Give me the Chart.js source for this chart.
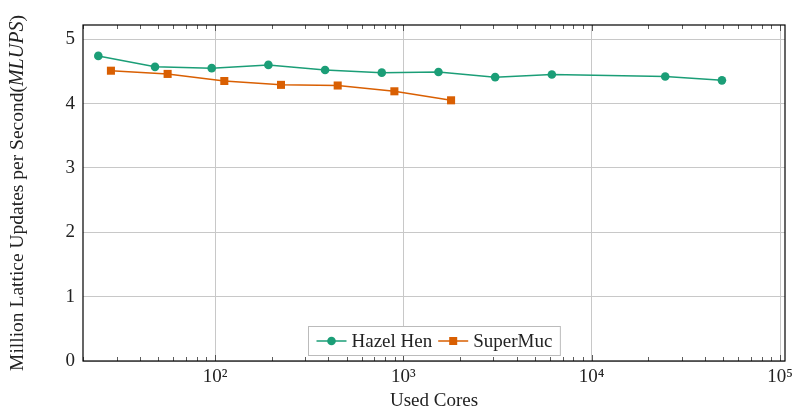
<!DOCTYPE html>
<html>
<head>
<meta charset="utf-8">
<script src="https://cdn.jsdelivr.net/npm/chart.js@4"></script>
<style>
    html, body { margin: 0; padding: 0; background: #fff; }
    #wrap { width: 793px; height: 409px; }
</style>
</head>
<body>
<div id="wrap"><canvas id="c" width="793" height="409"></canvas></div>
<script>
// values
const hazelCores = [24, 48, 96, 192, 384, 768, 1536, 3072, 6144, 24576, 49152];
const hazelMlups = [4.74, 4.57, 4.55, 4.60, 4.52, 4.48, 4.49, 4.41, 4.45, 4.42, 4.36];
const mucCores = [28, 56, 112, 224, 448, 896, 1792];
const mucMlups = [4.51, 4.46, 4.35, 4.29, 4.28, 4.19, 4.05];
const xMajorTicks = [1e2, 1e3, 1e4, 1e5];
const xTickLabels = ['10²', '10³', '10⁴', '10⁵'];
const yTicks = [0, 1, 2, 3, 4, 5];

const FONT = '"Liberation Serif", "DejaVu Serif", serif';
const GREEN = '#1b9e77';
const ORANGE = '#d95f02';
const TEXT = '#222';

function toPoints(xs, ys) {
    return xs.map((x, i) => ({ x, y: ys[i] }));
}

// frame, minor log ticks, axis titles (italic part), legend box inside the plot
const decorations = {
    id: 'decorations',
    afterDraw(chart) {
        const { ctx, chartArea: a, scales } = chart;
        const xs = scales.x;
        ctx.save();

        // minor ticks (inside, top and bottom)
        ctx.strokeStyle = '#333';
        ctx.lineWidth = 0.8;
        for (let e = 1; e <= 5; e++) {
            for (let m = 1; m <= 9; m++) {
                const v = m * Math.pow(10, e);
                if (v < xs.min || v > xs.max) continue;
                const px = Math.round(xs.getPixelForValue(v)) + 0.5;
                const len = m === 1 ? 6 : 4;
                ctx.beginPath();
                ctx.moveTo(px, a.bottom); ctx.lineTo(px, a.bottom - len);
                ctx.moveTo(px, a.top); ctx.lineTo(px, a.top + len);
                ctx.stroke();
            }
        }

        // frame
        ctx.strokeStyle = '#000';
        ctx.lineWidth = 1.2;
        ctx.strokeRect(a.left, a.top, a.right - a.left, a.bottom - a.top);

        // x axis title
        ctx.fillStyle = TEXT;
        ctx.font = '19px ' + FONT;
        ctx.textAlign = 'center';
        ctx.textBaseline = 'middle';
        ctx.fillText('Used Cores', (a.left + a.right) / 2, 401);
        ctx.textAlign = 'left';

        // y axis title
        const parts = [
            { t: 'Million Lattice Updates per Second(', f: '19.5px ' + FONT },
            { t: 'MLUPS', f: 'italic 20px ' + FONT },
            { t: ')', f: '19.5px ' + FONT }
        ];
        let total = 0;
        parts.forEach(p => { ctx.font = p.f; p.w = ctx.measureText(p.t).width; total += p.w; });
        ctx.translate(18, (a.top + a.bottom) / 2);
        ctx.rotate(-Math.PI / 2);
        let cx = -total / 2;
        parts.forEach(p => { ctx.font = p.f; ctx.fillText(p.t, cx, 0); cx += p.w; });
        ctx.setTransform(1, 0, 0, 1, 0, 0);

        // legend
        const items = chart.data.datasets;
        ctx.font = '19px ' + FONT;
        const sample = 30, gap = 5, pad = 8, between = 6;
        let w = pad;
        items.forEach((d, i) => { w += sample + gap + ctx.measureText(d.label).width + (i < items.length - 1 ? between : pad); });
        const h = 29;
        const lx = Math.round((a.left + a.right) / 2 - w / 2) + 0.5;
        const ly = a.bottom - 34.5;
        ctx.fillStyle = '#fff';
        ctx.fillRect(lx, ly, w, h);
        ctx.strokeStyle = '#bbb';
        ctx.lineWidth = 1;
        ctx.strokeRect(lx, ly, w, h);
        let x = lx + pad;
        const my = ly + h / 2;
        items.forEach(d => {
            ctx.strokeStyle = d.borderColor;
            ctx.lineWidth = 1.5;
            ctx.beginPath(); ctx.moveTo(x, my); ctx.lineTo(x + sample, my); ctx.stroke();
            ctx.fillStyle = d.borderColor;
            if (d.pointStyle === 'rect') {
                ctx.fillRect(x + sample / 2 - 4, my - 4, 8, 8);
            } else {
                ctx.beginPath(); ctx.arc(x + sample / 2, my, 4.3, 0, Math.PI * 2); ctx.fill();
            }
            x += sample + gap;
            ctx.fillStyle = TEXT;
            ctx.textBaseline = 'middle';
            ctx.fillText(d.label, x, my + 1);
            x += ctx.measureText(d.label).width + between;
        });
        ctx.restore();
    }
};

new Chart(document.getElementById('c').getContext('2d'), {
    type: 'line',
    data: {
        datasets: [
            {
                label: 'Hazel Hen',
                data: toPoints(hazelCores, hazelMlups),
                borderColor: GREEN,
                backgroundColor: GREEN,
                borderWidth: 1.5,
                pointStyle: 'circle',
                pointRadius: 4.3,
                pointBorderWidth: 0,
                tension: 0
            },
            {
                label: 'SuperMuc',
                data: toPoints(mucCores, mucMlups),
                borderColor: ORANGE,
                backgroundColor: ORANGE,
                borderWidth: 1.5,
                pointStyle: 'rect',
                pointRadius: 5.7,
                pointBorderWidth: 0,
                tension: 0
            }
        ]
    },
    options: {
        responsive: false,
        animation: false,
        layout: { padding: { top: 25, right: 8, left: 0, bottom: 0 } },
        plugins: { legend: { display: false }, tooltip: { enabled: false } },
        scales: {
            x: {
                type: 'logarithmic',
                min: 19.9,
                max: 106300,
                afterBuildTicks: s => { s.ticks = xMajorTicks.map(v => ({ value: v })); },
                afterFit: s => { s.height = 48; s.paddingLeft = 0; s.paddingRight = 0; },
                ticks: {
                    autoSkip: false,
                    maxRotation: 0,
                    padding: 5,
                    color: TEXT,
                    font: { family: FONT, size: 19 },
                    callback: v => xTickLabels[xMajorTicks.indexOf(v)] || ''
                },
                grid: { color: '#c8c8c8', drawTicks: false },
                border: { display: false }
            },
            y: {
                min: 0,
                max: 5.22,
                afterBuildTicks: s => { s.ticks = yTicks.map(v => ({ value: v })); },
                afterFit: s => { s.width = 83; s.paddingTop = 0; s.paddingBottom = 0; },
                ticks: {
                    padding: 8,
                    color: TEXT,
                    font: { family: FONT, size: 19 }
                },
                grid: { color: '#c8c8c8', drawTicks: false },
                border: { display: false }
            }
        }
    },
    plugins: [decorations]
});
</script>
</body>
</html>
